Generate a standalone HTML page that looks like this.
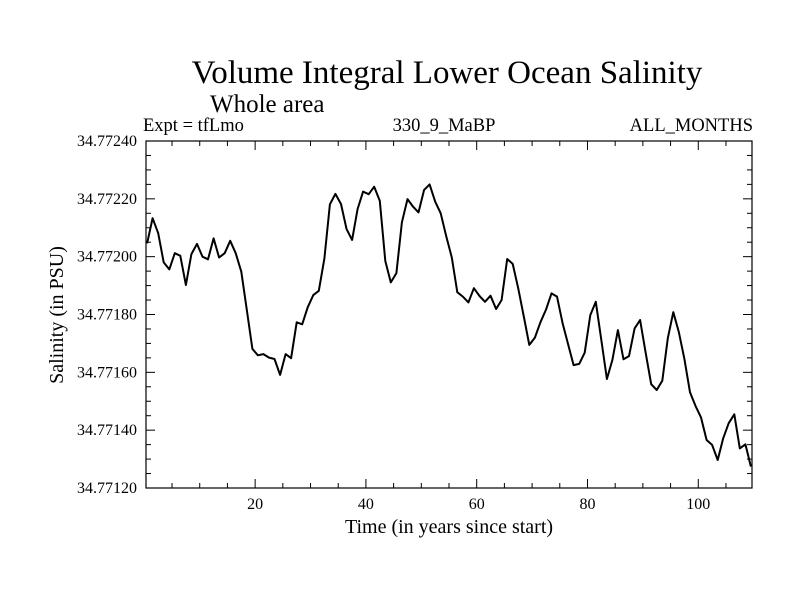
<!DOCTYPE html>
<html><head><meta charset="utf-8"><style>
body{margin:0;background:#fff;}
svg{display:block;font-family:"Liberation Serif",serif;}
</style></head><body>
<svg id="chart" width="800" height="600" viewBox="0 0 800 600">
<rect width="800" height="600" fill="#fff"/>
<text x="447" y="83" font-size="33" text-anchor="middle">Volume Integral Lower Ocean Salinity</text>
<text x="210" y="112" font-size="25">Whole area</text>
<text x="143" y="131" font-size="18.5">Expt = tfLmo</text>
<text x="444" y="131" font-size="18.5" text-anchor="middle">330_9_MaBP</text>
<text x="753" y="131" font-size="18.5" text-anchor="end">ALL_MONTHS</text>
<text x="449" y="533" font-size="20" text-anchor="middle">Time (in years since start)</text>
<text x="0" y="0" font-size="20" text-anchor="middle" transform="translate(63,315) rotate(-90)">Salinity (in PSU)</text>
<g id="axes"></g>
<g id="series"></g>
</svg>
<script>
// Values in units of 1e-5 above 34.77 PSU
const salinity = [204.6,213.3,208.1,198.0,195.6,201.2,200.3,190.2,200.9,204.4,
200.0,199.1,206.3,199.7,201.2,205.5,201.2,194.8,181.6,168.1,
165.9,166.3,165.1,164.6,159.1,166.3,164.9,177.3,176.6,182.5,
186.7,188.2,199.4,218.1,221.7,218.2,209.6,205.8,216.5,222.5,
221.6,224.2,219.3,198.5,191.1,194.3,211.9,219.9,217.3,215.3,
223.1,225.0,219.0,215.0,207.1,199.7,187.7,186.2,184.2,189.1,
186.4,184.4,186.5,181.9,185.0,199.2,197.5,189.1,179.3,169.5,
172.0,177.3,181.6,187.3,186.2,177.0,169.7,162.5,162.9,166.8,
179.8,184.4,171.2,157.7,164.3,174.6,164.5,165.6,175.2,178.1,
166.9,155.9,153.9,157.1,171.8,180.8,173.8,164.6,153.1,148.4,
144.4,136.6,134.9,129.7,137.2,142.4,145.5,133.7,135.1,127.4];
const xTickValues = [20,40,60,80,100];
const yTickValues = [120,140,160,180,200,220,240];
const yTickLabels = ["34.77120","34.77140","34.77160","34.77180","34.77200","34.77220","34.77240"];

const L=146,R=752,T=141,B=488;
const xMin=0.3,xMax=109.7,yMin=120,yMax=240;
function xs(t){return L+(t-xMin)/(xMax-xMin)*(R-L);}
function ys(v){return B-(v-yMin)/(yMax-yMin)*(B-T);}
const NS="http://www.w3.org/2000/svg";
const axes=document.getElementById('axes');
function mk(tag,attrs,parent){const e=document.createElementNS(NS,tag);for(const k in attrs)e.setAttribute(k,attrs[k]);parent.appendChild(e);return e;}

const frame=mk('rect',{x:L,y:T,width:R-L,height:B-T,fill:'none',stroke:'#000','stroke-width':1.2},axes);



for(let t=5;t<xMax;t+=5){
  const x=xs(t),len=(t%20===0)?9:5;
  const a=mk('line',{x1:x,x2:x,y1:B,y2:B-len,stroke:'#000'},axes);
  
  
  const b=mk('line',{x1:x,x2:x,y1:T,y2:T+len,stroke:'#000'},axes);
  
  
}
xTickValues.forEach(t=>{
  const tx=mk('text',{x:xs(t),y:509,'font-size':16,'text-anchor':'middle'},axes);
  tx.textContent=t;
  
  
});
for(let v=yMin+5;v<yMax;v+=5){
  const y=ys(v),len=(v%20===0)?9:5;
  const a=mk('line',{x1:L,x2:L+len,y1:y,y2:y,stroke:'#000'},axes);
  
  
  const b=mk('line',{x1:R,x2:R-len,y1:y,y2:y,stroke:'#000'},axes);
  
  
}
yTickValues.forEach((v,i)=>{
  const tx=mk('text',{x:137,y:ys(v)+5,'font-size':16,'text-anchor':'end'},axes);
  tx.textContent=yTickLabels[i];
  
  
});
const pts=salinity.map((v,i)=>xs(i+0.5).toFixed(1)+','+ys(v).toFixed(1)).join(' ');
const line=mk('polyline',{points:pts,fill:'none',stroke:'#000','stroke-width':2,'stroke-linejoin':'round'},document.getElementById('series'));


</script>
</body></html>
